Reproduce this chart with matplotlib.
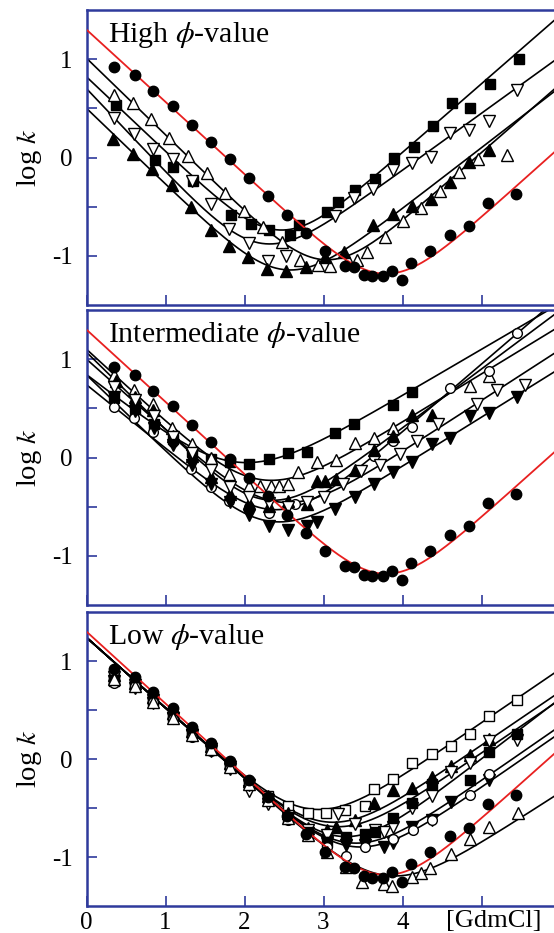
import numpy as np
import matplotlib.pyplot as plt

plt.rcParams['font.family'] = ['Liberation Serif', 'DejaVu Serif']
plt.rcParams['mathtext.fontset'] = 'stix'
plt.rcParams['axes.unicode_minus'] = False

FRAME = '#2f3a9c'
RED = '#e82020'

# ---- wild type (same in all three panels) ----
wt_x = [0.35, 0.61, 0.84, 1.09, 1.33, 1.57, 1.82, 2.06, 2.30, 2.54, 2.78, 3.02, 3.27,
        3.38, 3.51, 3.62, 3.75, 3.87, 3.99, 4.11, 4.35, 4.60, 4.84, 5.08, 5.44]
wt_y = [0.92, 0.84, 0.68, 0.52, 0.33, 0.16, -0.02, -0.21, -0.39, -0.58, -0.77, -0.95, -1.10,
        -1.11, -1.19, -1.21, -1.21, -1.15, -1.25, -1.07, -0.95, -0.79, -0.70, -0.46, -0.37]
# chevron fit: log kf(0), m_f, log ku(0), m_u
wt_fit = [1.30, 0.735, -4.21, 0.72]

# ---- high phi-value ----
hi_sq_x = [0.37, 0.87, 1.10, 1.35, 1.83, 2.08, 2.31, 2.58, 2.69, 3.04, 3.18, 3.40, 3.65,
           3.89, 4.14, 4.38, 4.63, 4.86, 5.11, 5.47]
hi_sq_y = [0.53, -0.03, -0.10, -0.24, -0.58, -0.68, -0.74, -0.79, -0.69, -0.55, -0.45, -0.33,
           -0.22, -0.01, 0.11, 0.32, 0.55, 0.50, 0.75, 1.00]
hi_sq_fit = [0.82, 0.76, -2.75, 0.70]

hi_dn_x = [0.35, 0.60, 0.84, 1.09, 1.33, 1.58, 1.81, 2.06, 2.30, 2.53, 3.15, 3.39, 3.63,
           3.88, 4.12, 4.36, 4.60, 4.84, 5.09, 5.45]
hi_dn_y = [0.40, 0.24, 0.09, -0.02, -0.24, -0.47, -0.73, -0.87, -1.05, -1.00, -0.59, -0.41,
           -0.32, -0.13, -0.06, 0.01, 0.25, 0.28, 0.37, 0.69]
hi_dn_fit = [0.70, 0.85, -2.45, 0.58]

hi_up_x = [0.35, 0.59, 0.82, 1.05, 1.29, 1.53, 1.75, 1.99, 2.24, 2.47, 2.70, 2.93, 3.08,
           3.31, 3.43, 3.55, 3.78, 4.01, 4.24, 4.47, 4.71, 4.96, 5.32]
hi_up_y = [0.64, 0.55, 0.39, 0.20, 0.02, -0.16, -0.36, -0.54, -0.71, -0.86, -1.04, -1.09,
           -1.10, -1.04, -1.04, -0.96, -0.81, -0.65, -0.51, -0.34, -0.15, -0.02, 0.03]
hi_up_fit = [1.01, 0.78, -3.45, 0.70]

hi_tri_x = [0.34, 0.59, 0.83, 1.08, 1.32, 1.57, 1.81, 2.05, 2.29, 2.53, 2.78, 3.02, 3.26,
            3.63, 3.88, 4.12, 4.36, 4.60, 4.84, 5.09]
hi_tri_y = [0.19, 0.04, -0.12, -0.28, -0.50, -0.74, -0.90, -1.01, -1.13, -1.15, -1.11, -1.01,
            -0.96, -0.69, -0.57, -0.49, -0.42, -0.25, -0.05, 0.08]
hi_tri_fit = [0.50, 0.773, -3.00, 0.62]

# ---- intermediate phi-value ----
mid_sq_x = [0.35, 0.61, 0.85, 1.09, 1.33, 1.58, 1.82, 2.06, 2.31, 2.55, 2.79, 3.15, 3.39,
            3.88, 4.12]
mid_sq_y = [0.61, 0.49, 0.34, 0.19, 0.06, -0.02, -0.05, -0.07, -0.02, 0.05, 0.06, 0.25, 0.34,
            0.53, 0.67]
mid_sq_fit = [0.84, 0.62, -1.25, 0.47]

mid_up_x = [0.35, 0.60, 0.84, 1.08, 1.33, 1.57, 1.81, 2.06, 2.20, 2.33, 2.44, 2.55, 2.68,
            2.92, 3.16, 3.40, 3.64, 3.88, 4.85, 5.09]
mid_up_y = [0.84, 0.69, 0.54, 0.30, 0.14, 0.00, -0.17, -0.29, -0.29, -0.29, -0.29, -0.27,
            -0.15, -0.05, -0.03, 0.15, 0.20, 0.30, 0.73, 0.83]
mid_up_fit = [1.10, 0.74, -1.60, 0.49]

mid_ci_x = [0.35, 0.60, 0.84, 1.09, 1.32, 1.57, 1.81, 2.06, 2.31, 2.64, 3.64, 3.88, 4.12,
            4.60, 5.09, 5.45]
mid_ci_y = [0.51, 0.40, 0.26, 0.16, -0.12, -0.30, -0.44, -0.50, -0.56, -0.47, 0.02, 0.17,
            0.31, 0.71, 0.88, 1.27]
mid_ci_fit = [0.74, 0.65, -2.50, 0.69]

mid_tri_x = [0.37, 0.61, 0.84, 1.09, 1.33, 1.57, 1.82, 2.06, 2.31, 2.55, 2.79, 2.92, 3.02,
             3.16, 3.40, 3.64, 3.88, 4.12, 4.37]
mid_tri_y = [0.78, 0.62, 0.48, 0.22, 0.02, -0.20, -0.37, -0.46, -0.49, -0.44, -0.47, -0.24,
             -0.24, -0.22, -0.13, 0.08, 0.22, 0.43, 0.43]
mid_tri_fit = [1.07, 0.79, -2.10, 0.60]

mid_dn_x = [0.35, 0.61, 0.85, 1.09, 1.33, 1.57, 1.82, 2.06, 2.31, 2.55, 2.79, 3.01, 3.25,
            3.48, 3.72, 3.97, 4.18, 4.45, 4.94, 5.19, 5.55]
mid_dn_y = [0.72, 0.58, 0.42, 0.21, 0.05, -0.13, -0.30, -0.40, -0.46, -0.50, -0.45, -0.40,
            -0.27, -0.14, -0.08, 0.04, 0.17, 0.34, 0.54, 0.69, 0.74]
mid_dn_fit = [1.00, 0.72, -2.02, 0.52]

mid_fdn_x = [0.35, 0.61, 0.85, 1.09, 1.33, 1.57, 1.82, 2.06, 2.31, 2.55, 2.79, 2.92, 3.15,
             3.40, 3.64, 3.88, 4.12, 4.37, 4.60, 4.85, 5.09, 5.45]
mid_fdn_y = [0.62, 0.47, 0.30, 0.13, -0.08, -0.27, -0.45, -0.58, -0.70, -0.74, -0.70, -0.66,
             -0.52, -0.40, -0.27, -0.15, -0.05, 0.14, 0.20, 0.42, 0.45, 0.62]
mid_fdn_fit = [0.84, 0.78, -2.09, 0.50]

# ---- low phi-value ----
lo_sq_x = [0.35, 0.61, 0.84, 1.09, 1.33, 1.57, 1.82, 2.06, 2.30, 2.55, 2.80, 3.03, 3.27,
           3.53, 3.64, 3.88, 4.12, 4.37, 4.61, 4.85, 5.10, 5.45]
lo_sq_y = [0.82, 0.77, 0.60, 0.44, 0.27, 0.12, -0.06, -0.24, -0.38, -0.48, -0.55, -0.55,
           -0.52, -0.48, -0.31, -0.20, -0.04, 0.05, 0.13, 0.26, 0.44, 0.60]
lo_sq_fit = [1.24, 0.72, -2.38, 0.55]

lo_tri_x = [0.35, 0.61, 0.84, 1.09, 1.33, 1.57, 1.82, 2.06, 2.30, 2.55, 2.80, 3.04, 3.16,
            3.40, 3.64, 3.88, 4.12, 4.37, 4.61, 4.85, 5.10]
lo_tri_y = [0.86, 0.78, 0.63, 0.47, 0.29, 0.13, -0.04, -0.22, -0.38, -0.55, -0.70, -0.72,
            -0.69, -0.62, -0.45, -0.32, -0.30, -0.18, -0.07, 0.04, 0.20]
lo_tri_fit = [1.24, 0.72, -2.61, 0.55]

lo_dn_x = [0.35, 0.61, 0.84, 1.09, 1.33, 1.57, 1.82, 2.06, 2.30, 2.55, 2.80, 3.04, 3.18,
           3.40, 3.65, 3.76, 3.88, 4.12, 4.37, 4.61, 4.85, 5.10, 5.45]
lo_dn_y = [0.84, 0.76, 0.60, 0.42, 0.24, 0.10, -0.08, -0.33, -0.46, -0.58, -0.72, -0.78,
           -0.56, -0.66, -0.72, -0.74, -0.69, -0.50, -0.38, -0.13, -0.04, 0.18, 0.19]
lo_dn_fit = [1.24, 0.72, -3.10, 0.62]

lo_fsq_x = [0.35, 0.61, 0.84, 1.09, 1.33, 1.57, 1.82, 2.06, 2.30, 2.55, 2.80, 3.04, 3.29,
            3.53, 3.65, 3.88, 4.12, 4.37, 4.85, 5.10, 5.45]
lo_fsq_y = [0.80, 0.74, 0.60, 0.44, 0.27, 0.11, -0.06, -0.24, -0.40, -0.60, -0.78, -0.85,
            -0.80, -0.77, -0.74, -0.60, -0.45, -0.25, -0.21, 0.07, 0.26]
lo_fsq_fit = [1.24, 0.72, -2.69, 0.55]

lo_fdn_x = [0.35, 0.61, 0.84, 1.09, 1.33, 1.57, 1.82, 2.06, 2.30, 2.55, 2.80, 3.04, 3.29,
            3.53, 3.76, 3.88, 4.12, 4.37, 4.61, 5.10]
lo_fdn_y = [0.80, 0.72, 0.57, 0.42, 0.25, 0.08, -0.10, -0.27, -0.42, -0.60, -0.76, -0.86,
            -0.88, -0.88, -0.90, -0.86, -0.69, -0.62, -0.44, -0.21]
lo_fdn_fit = [1.24, 0.72, -3.02, 0.56]

lo_ci_x = [0.35, 0.61, 0.84, 1.09, 1.33, 1.57, 1.82, 2.06, 2.30, 2.55, 2.80, 3.04, 3.29,
           3.53, 3.88, 4.13, 4.37, 4.85, 5.10]
lo_ci_y = [0.78, 0.74, 0.58, 0.41, 0.22, 0.08, -0.09, -0.27, -0.43, -0.62, -0.79, -0.90,
           -0.99, -0.90, -0.82, -0.72, -0.62, -0.37, -0.15]
lo_ci_fit = [1.24, 0.72, -3.09, 0.56]

lo_up_x = [0.35, 0.61, 0.84, 1.09, 1.33, 1.57, 1.82, 2.06, 2.30, 2.55, 2.80, 3.04, 3.29,
           3.49, 3.76, 3.87, 4.12, 4.24, 4.35, 4.62, 4.85, 5.10, 5.46]
lo_up_y = [0.82, 0.74, 0.58, 0.42, 0.25, 0.10, -0.08, -0.25, -0.42, -0.60, -0.78, -0.95,
           -1.10, -1.25, -1.28, -1.30, -1.20, -1.16, -1.11, -0.97, -0.82, -0.69, -0.55]
lo_up_fit = [1.24, 0.72, -3.46, 0.52]

titles = [r'High $\phi$-value', r'Intermediate $\phi$-value', r'Low $\phi$-value']
xticks = [0, 1, 2, 3, 4, 5]
xticklabels = ['0', '1', '2', '3', '4', '']

# marker style: (marker, filled, size)
STY = {'sq': ('s', True, 7), 'osq': ('s', False, 7), 'ci': ('o', True, 7.5),
       'oci': ('o', False, 7), 'tri': ('^', True, 8), 'up': ('^', False, 8),
       'fdn': ('v', True, 8), 'dn': ('v', False, 8)}

panels = [
    [(hi_sq_x, hi_sq_y, 'sq', hi_sq_fit), (hi_dn_x, hi_dn_y, 'dn', hi_dn_fit),
     (hi_up_x, hi_up_y, 'up', hi_up_fit), (hi_tri_x, hi_tri_y, 'tri', hi_tri_fit)],
    [(mid_sq_x, mid_sq_y, 'sq', mid_sq_fit), (mid_up_x, mid_up_y, 'up', mid_up_fit),
     (mid_ci_x, mid_ci_y, 'oci', mid_ci_fit), (mid_tri_x, mid_tri_y, 'tri', mid_tri_fit),
     (mid_dn_x, mid_dn_y, 'dn', mid_dn_fit), (mid_fdn_x, mid_fdn_y, 'fdn', mid_fdn_fit)],
    [(lo_sq_x, lo_sq_y, 'osq', lo_sq_fit), (lo_tri_x, lo_tri_y, 'tri', lo_tri_fit),
     (lo_dn_x, lo_dn_y, 'dn', lo_dn_fit), (lo_fsq_x, lo_fsq_y, 'sq', lo_fsq_fit),
     (lo_fdn_x, lo_fdn_y, 'fdn', lo_fdn_fit), (lo_ci_x, lo_ci_y, 'oci', lo_ci_fit),
     (lo_up_x, lo_up_y, 'up', lo_up_fit)],
]


def chevron(x, p):
    a, mf, b, mu = p
    return np.log10(10 ** (a - mf * x) + 10 ** (b + mu * x))


W, H = 554, 933
fig = plt.figure(figsize=(W / 100, H / 100), dpi=100)
boxes = [(10, 305), (310, 605), (612, 906)]   # top / bottom pixel rows of each frame
xmax = 5.95
xs = np.linspace(0, xmax, 400)

for i, (top, bot) in enumerate(boxes):
    ax = fig.add_axes([86.5 / W, (H - bot) / H, xmax * 79 / W, (bot - top) / H])
    ax.set_xlim(0, xmax)
    ax.set_ylim(-1.5, 1.5)
    for s in ax.spines.values():
        s.set_color(FRAME)
        s.set_linewidth(1.8)
    ax.spines['right'].set_visible(False)

    for x, y, key, fit in panels[i]:
        m, filled, ms = STY[key]
        ax.plot(xs, chevron(xs, fit), color='black', lw=1.2, zorder=2)
        ax.plot(x, y, ls='none', marker=m, ms=ms, mec='black', mew=1.0,
                mfc='black' if filled else 'white', zorder=3)
    ax.plot(xs, chevron(xs, wt_fit), color=RED, lw=1.3, zorder=4)
    ax.plot(wt_x, wt_y, ls='none', marker='o', ms=7.5, mfc='black', mec='black', zorder=5)

    ax.set_yticks([-1, 0, 1])
    ax.set_yticklabels(['-1', '0', '1'])
    ax.set_yticks([-0.5, 0.5], minor=True)
    ax.set_xticks(xticks)
    ax.tick_params(which='both', direction='in', length=7, width=1.2, color=FRAME,
                   labelsize=18, top=False, right=False)
    ax.tick_params(axis='y', pad=10)
    ax.tick_params(axis='x', pad=4)
    if i == 2:
        ax.set_xticklabels(xticklabels)
        ax.text(4.55, -0.015, '[GdmCl]', fontsize=19, ha='left', va='top',
                transform=ax.get_xaxis_transform(), clip_on=False)
    else:
        ax.set_xticklabels([])

    ax.text(0.27, 1.17, titles[i], fontsize=21.5, va='baseline')
    fig.text(29 / W, 1 - (top + bot) / 2 / H, r'log $k$', fontsize=20.5,
             rotation=90, ha='center', va='center')

fig.savefig('out.png', dpi=100)
